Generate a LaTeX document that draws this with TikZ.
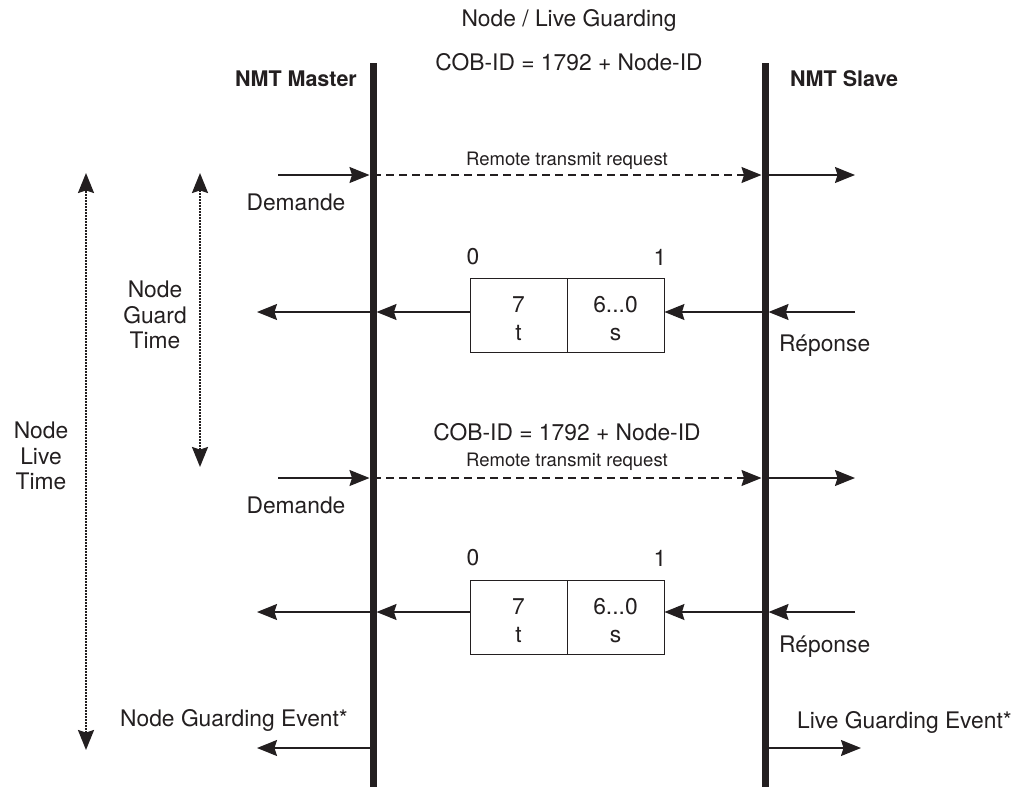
\documentclass[tikz,border=0pt]{standalone}
\usepackage{fontspec}
\setmainfont{TeX Gyre Heros}
\usetikzlibrary{arrows.meta}
\definecolor{ink}{HTML}{231F20}
\tikzset{
  lifeline/.style={line width=7pt, draw=ink},
  head tip/.tip={Stealth[length=20pt,width=16pt,inset=2.5pt]},
  msg/.style={-head tip, line width=1.4pt, draw=ink},
  rtr/.style={msg, dash pattern=on 8pt off 5pt},
  span/.style={head tip-head tip, line width=2pt, draw=ink, dash pattern=on 1.6pt off 1.4pt},
  lbl/.style={font=\fontsize{22.8}{25.5}\selectfont, text=ink, inner sep=0pt, align=center},
  small/.style={font=\fontsize{18.5}{21}\selectfont, text=ink, inner sep=0pt},
  head/.style={font=\fontsize{21.5}{25}\selectfont\bfseries, text=ink, inner sep=0pt},
  cell/.style={draw=ink, line width=0.9pt, minimum width=97pt, minimum height=74pt, inner sep=0pt},
  celltext/.style={font=\fontsize{22.8}{28}\selectfont, text=ink, inner sep=0pt, align=center},
  atline/.style={shorten >=3.5pt}
}
\begin{document}
\begin{tikzpicture}[x=1pt,y=-1pt]
\useasboundingbox (0,0) rectangle (1026,787);

% headings
\node[lbl] (title) at (569,20) {Node / Live Guarding};
\node[lbl] (cobA) at (569,62) {COB-ID = 1792 + Node-ID};
\node[head, anchor=east] (master) at (357,79) {NMT Master};
\node[head, anchor=west] (slave) at (790,79) {NMT Slave};

% lifelines
\coordinate (mTop) at (373,63);
\coordinate (mBot) at (373,787);
\coordinate (sTop) at (765,63);
\coordinate (sBot) at (765,787);
\draw[lifeline] (mTop) -- (mBot);
\draw[lifeline] (sTop) -- (sBot);

% time spans
\coordinate (nltTop) at (86,173);
\coordinate (nltBot) at (86,750);
\coordinate (ngtTop) at (200,173);
\coordinate (ngtBot) at (200,467);
\draw[span] (nltBot) -- (nltTop);
\draw[span] (ngtBot) -- (ngtTop);
\node[lbl] (ngt) at (155,315) {Node\\Guard\\Time};
\node[lbl] (nlt) at (41,456) {Node\\Live\\Time};

% ---- first request ----
\coordinate (q1in) at (278,175);
\coordinate (q1m) at (373,175);
\coordinate (q1s) at (765,175);
\coordinate (q1out) at (855,175);
\draw[msg, atline] (q1in) -- (q1m);
\draw[rtr, atline] (q1m) -- (q1s);
\draw[msg] (q1s) -- (q1out);
\node[small] (rtrA) at (567,161) {Remote transmit request};
\node[lbl] (demA) at (296,202) {Demande};

% ---- first response ----
\node[cell] (tA) at (518.5,315) {};
\node[cell] (sA) at (615.5,315) {};
\node[celltext] (tAtxt) at ([yshift=-4pt]tA.center) {7\\t};
\node[celltext] (sAtxt) at ([yshift=-4pt]sA.center) {6...0\\s};
\node[lbl] (zeroA) at (473,257) {0};
\node[lbl] (oneA) at (660,257) {1};
\coordinate (r1in) at (855,312);
\coordinate (r1s) at (765,312);
\coordinate (r1m) at (373,312);
\coordinate (r1out) at (257,312);
\draw[msg, atline] (r1in) -- (r1s);
\draw[msg] (r1s) -- (sA.east |- r1s);
\draw[msg, atline] (tA.west |- r1m) -- (r1m);
\draw[msg] (r1m) -- (r1out);
\node[lbl, anchor=west] (repA) at (779,346) {Réponse};

% ---- second request ----
\node[lbl] (cobB) at (567,432) {COB-ID = 1792 + Node-ID};
\coordinate (q2in) at (278,478);
\coordinate (q2m) at (373,478);
\coordinate (q2s) at (765,478);
\coordinate (q2out) at (855,478);
\draw[msg, atline] (q2in) -- (q2m);
\draw[rtr, atline] (q2m) -- (q2s);
\draw[msg] (q2s) -- (q2out);
\node[small] (rtrB) at (567,462) {Remote transmit request};
\node[lbl] (demB) at (296,505) {Demande};

% ---- second response ----
\node[cell] (tB) at (518.5,617) {};
\node[cell] (sB) at (615.5,617) {};
\node[celltext] (tBtxt) at ([yshift=-4pt]tB.center) {7\\t};
\node[celltext] (sBtxt) at ([yshift=-4pt]sB.center) {6...0\\s};
\node[lbl] (zeroB) at (473,558) {0};
\node[lbl] (oneB) at (660,558) {1};
\coordinate (r2in) at (855,612);
\coordinate (r2s) at (765,612);
\coordinate (r2m) at (373,612);
\coordinate (r2out) at (257,612);
\draw[msg, atline] (r2in) -- (r2s);
\draw[msg] (r2s) -- (sB.east |- r2s);
\draw[msg, atline] (tB.west |- r2m) -- (r2m);
\draw[msg] (r2m) -- (r2out);
\node[lbl, anchor=west] (repB) at (779,647) {Réponse};

% ---- guarding events ----
\coordinate (evm) at (373,748);
\coordinate (evl) at (257,748);
\coordinate (evs) at (765,748);
\coordinate (evr) at (861,748);
\draw[msg] (evm) -- (evl);
\draw[msg] (evs) -- (evr);
\node[lbl] (nge) at (234,720) {Node Guarding Event*};
\node[lbl, anchor=west] (lge) at (797,722) {Live Guarding Event*};
\end{tikzpicture}
\end{document}
